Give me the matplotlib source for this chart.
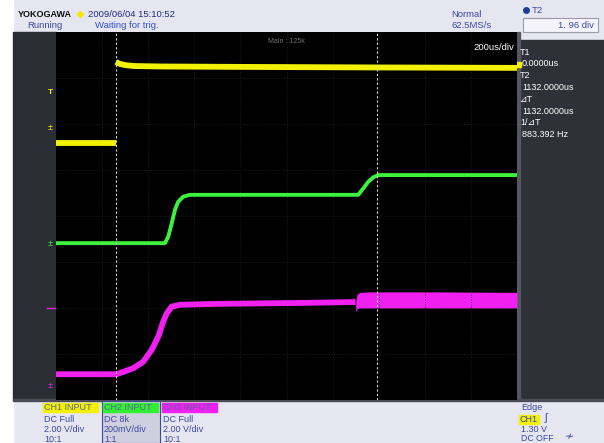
import numpy as np
import matplotlib

matplotlib.use("Agg")
import matplotlib.pyplot as plt
from matplotlib.patches import Rectangle

plt.rcParams["font.family"] = ["Liberation Sans", "DejaVu Sans"]

# time in us (T1 = 0), amplitude in divisions (0 = screen centre)
t_left, t_right = -260, 1740
t1, t2 = 0, 1132

ch1_pre_t = [-260, 0]
ch1_pre_v = [1.59, 1.59]
ch1_t = [0, 15, 40, 80, 200, 600, 1100, 1740]
ch1_v = [3.35, 3.31, 3.28, 3.26, 3.25, 3.24, 3.23, 3.22]

ch2_t = [-260, 213, 227, 242, 256, 270, 292, 321, 700, 1051, 1073, 1095, 1116, 1138, 1400, 1740]
ch2_v = [-0.59, -0.59, -0.45, -0.16, 0.13, 0.31, 0.42, 0.46, 0.46, 0.46, 0.60, 0.745, 0.84, 0.89, 0.89, 0.89]

ch3_t = [-260, 3, 75, 118, 155, 184, 205, 220, 242, 278, 437, 800, 1040]
ch3_v = [-3.44, -3.44, -3.31, -3.17, -2.91, -2.62, -2.30, -2.12, -1.97, -1.93, -1.91, -1.89, -1.87]
ch3_band_t = [1040, 1046, 1060, 1100, 1400, 1740]
ch3_band_hi = [-1.87, -1.70, -1.66, -1.65, -1.65, -1.66]
ch3_band_lo = [-2.09, -2.02, -2.00, -2.00, -2.00, -2.00]

cursor_lines = ["T1", "0.0000us", "T2", "1132.0000us", "⊿T", "1132.0000us", "1/⊿T", "883.392 Hz"]
channels = ["CH1 INPUT", "CH2 INPUT", "CH3 INPUT"]
channel_info = [["DC Full", "2.00 V/div", "10:1"], ["DC 8k", "200mV/div", "1:1"], ["DC Full", "2.00 V/div", "10:1"]]

yellow = "#f2f200"
green = "#3cf23c"
magenta = "#f020f0"
txt_blue = "#3a4aa0"
panel_bg = "#e6e6f0"

W, H = 604, 443
fig = plt.figure(figsize=(W / 100, H / 100), dpi=100, facecolor=panel_bg)

# background / frame layer in pixel coords
bg = fig.add_axes([0, 0, 1, 1])
bg.set_xlim(0, W)
bg.set_ylim(H, 0)
bg.axis("off")
bg.add_patch(Rectangle((0, 0), 13, H, color="white"))
bg.add_patch(Rectangle((13, 32), 43, 368, color="#2a2d34"))
bg.add_patch(Rectangle((517, 40), 87, 360, color="#2e3137"))
bg.add_patch(Rectangle((517, 32), 3, 368, color="#55585e"))
bg.add_patch(Rectangle((13, 399), 591, 2, color="#4a4d55"))

# header
bg.text(18, 14, "YOKOGAWA", fontsize=6.5, fontweight="bold", color="#111111", va="center")
bg.plot([80], [14], marker="D", ms=4, color="#f5e600", mec="none")
bg.text(88, 14, "2009/06/04 15:10:52", fontsize=6.8, color="#202a80", va="center")
bg.text(27, 25, "Running", fontsize=6.8, color=txt_blue, va="center")
bg.text(95, 25, "Waiting for trig.", fontsize=6.8, color="#3050d0", va="center")
bg.text(451, 14, "Normal", fontsize=6.8, color=txt_blue, va="center")
bg.text(451, 25, "62.5MS/s", fontsize=6.8, color=txt_blue, va="center")
bg.plot([526], [10], marker="o", ms=5, color="#1a3aa0", mec="none")
bg.text(532, 10, "T2", fontsize=6.8, color=txt_blue, va="center")
bg.add_patch(Rectangle((523, 18), 75, 14, facecolor="#f4f4fa", edgecolor="#9a9aa8", lw=0.8))
bg.text(594, 25.5, "1. 96 div", fontsize=6.8, color=txt_blue, va="center", ha="right")

# right cursor panel
for i, s in enumerate(cursor_lines):
    x = 520 if i % 2 == 0 else 522
    bg.text(x, 52 + i * 11.8, s, fontsize=6.5, color="white", va="center")
bg.add_patch(Rectangle((517, 62), 4, 5, color=yellow))

# left ground markers
bg.text(50, 92, "T", fontsize=6, color=yellow, va="center", ha="center", fontweight="bold")
bg.text(50, 127, "±", fontsize=6.5, color=yellow, va="center", ha="center")
bg.text(50, 243, "±", fontsize=6.5, color=green, va="center", ha="center")
bg.plot([47, 55], [308, 308], color=magenta, lw=1)
bg.text(50, 385, "±", fontsize=6.5, color=magenta, va="center", ha="center")

# bottom channel boxes
box_x = [43, 103, 162]
box_c = [yellow, "#30f030", "#f020f0"]
bg.add_patch(Rectangle((102, 401), 58, 42, facecolor="#cfcfe0", edgecolor="#3a4aa0", lw=0.8))
for i, name in enumerate(channels):
    bg.add_patch(Rectangle((box_x[i], 403), 55, 9, color=box_c[i]))
    bg.text(box_x[i] + 1, 407.5, name, fontsize=6.5, color="#6060a0", va="center")
    for j, s in enumerate(channel_info[i]):
        bg.text(box_x[i] + 1, 419 + j * 10.5, s, fontsize=6.5, color=txt_blue, va="center")
bg.text(521, 408, "Edge", fontsize=6.5, color=txt_blue, va="center")
bg.add_patch(Rectangle((519, 415), 20, 9, color=yellow))
bg.text(520, 419.5, "CH1", fontsize=6.5, color=txt_blue, va="center")
bg.text(545, 418, "ʃ", fontsize=8, color=txt_blue, va="center")
bg.text(521, 429.5, "1.30 V", fontsize=6.5, color=txt_blue, va="center")
bg.text(521, 438.5, "DC OFF", fontsize=6.3, color=txt_blue, va="center")
bg.text(565, 437, "≁", fontsize=8, color=txt_blue, va="center")

# main scope screen
ax = fig.add_axes([56 / W, 1 - 400 / H, 461 / W, 368 / H])
ax.set_facecolor("black")
ax.set_xlim(t_left, t_right)
ax.set_ylim(-4, 4)
for xg in np.arange(t_left + 200, t_right, 200):
    ax.axvline(xg, color="#262626", lw=0.6, ls=(0, (1, 2)))
for yg in range(-3, 4):
    ax.axhline(yg, color="#262626", lw=0.6, ls=(0, (1, 2)))

ax.plot(ch1_pre_t, ch1_pre_v, color=yellow, lw=4.2, solid_capstyle="butt")
ax.plot(ch1_t, ch1_v, color=yellow, lw=4.2, solid_capstyle="butt")
ax.plot(ch2_t, ch2_v, color=green, lw=2.8, solid_capstyle="butt")
ax.plot(ch3_t, ch3_v, color=magenta, lw=4.2, solid_capstyle="butt")
ax.fill_between(ch3_band_t, ch3_band_lo, ch3_band_hi, color=magenta, lw=0)

for tc in (t1, t2):
    ax.axvline(tc, color="#d8d8d8", lw=0.8, ls=(0, (2, 2)))

ax.text(0.5, 0.985, "Main : 125k", transform=ax.transAxes, fontsize=5, color="#707070", ha="center", va="top")
ax.text(0.995, 0.97, "200us/div", transform=ax.transAxes, fontsize=6.8, color="white", ha="right", va="top")

ax.set_xticks([])
ax.set_yticks([])
for sp in ax.spines.values():
    sp.set_visible(False)

fig.savefig("out.png", dpi=100, facecolor=panel_bg)
